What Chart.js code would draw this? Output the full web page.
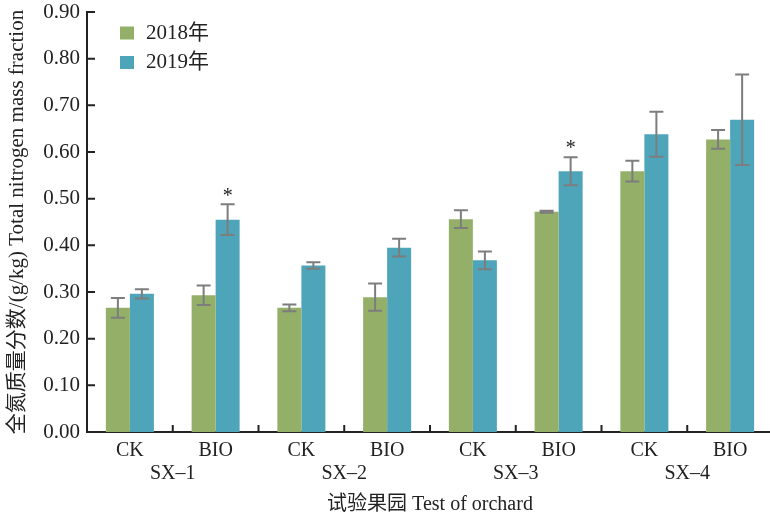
<!DOCTYPE html>
<html>
<head>
<meta charset="utf-8">
<script src="https://cdn.jsdelivr.net/npm/chart.js@4"></script>
<style>
  html, body { margin: 0; padding: 0; background: #fff; overflow: hidden; }
  #wrap { position: relative; width: 775px; height: 517px; }
</style>
</head>
<body>
<div id="wrap"><canvas id="c"></canvas></div>
<script>
// ---- data ----
const categories = ['CK', 'BIO', 'CK', 'BIO', 'CK', 'BIO', 'CK', 'BIO'];
const orchards = ['SX–1', 'SX–2', 'SX–3', 'SX–4'];
const seriesNames = ['2018年', '2019年'];
const values2018 = [0.266, 0.293, 0.266, 0.289, 0.456, 0.472, 0.559, 0.627];
const values2019 = [0.296, 0.455, 0.357, 0.395, 0.368, 0.559, 0.638, 0.669];
const err2018 = [0.021, 0.021, 0.007, 0.029, 0.019, 0.002, 0.022, 0.020];
const err2019 = [0.010, 0.033, 0.007, 0.019, 0.019, 0.030, 0.048, 0.097];
const sig2018 = [false, false, false, false, false, false, false, false];
const sig2019 = [false, true, false, false, false, true, false, false];
const yMin = 0, yMax = 0.9, yStep = 0.1;
const xTitle = '试验果园 Test of orchard';
const yTitle = '全氮质量分数/(g/kg) Total nitrogen mass fraction';

const errors = [err2018, err2019];
const sigs = [sig2018, sig2019];
const colors = ['#94af68', '#4ea5ba'];
const FONT = "'Liberation Serif', 'Noto Sans CJK SC', serif";
const INK = '#222';

const decor = {
  id: 'decor',
  afterDatasetsDraw(chart) {
    const ctx = chart.ctx;
    const x = chart.scales.x, y = chart.scales.y;
    ctx.save();
    // error bars + significance marks
    chart.data.datasets.forEach((ds, di) => {
      const meta = chart.getDatasetMeta(di);
      meta.data.forEach((bar, i) => {
        const v = ds.data[i], e = errors[di][i];
        const yt = y.getPixelForValue(v + e), yb = y.getPixelForValue(v - e);
        const cx = bar.x;
        ctx.strokeStyle = '#7d7d7d';
        ctx.lineWidth = 2;
        ctx.beginPath();
        ctx.moveTo(cx, yt); ctx.lineTo(cx, yb);
        ctx.moveTo(cx - 7, yt); ctx.lineTo(cx + 7, yt);
        ctx.moveTo(cx - 7, yb); ctx.lineTo(cx + 7, yb);
        ctx.stroke();
        if (sigs[di][i]) {
          ctx.fillStyle = INK;
          ctx.font = "20px " + FONT;
          ctx.textAlign = 'center';
          ctx.textBaseline = 'middle';
          ctx.fillText('*', cx, yt - 8);
        }
      });
    });
    // inward ticks
    ctx.strokeStyle = INK;
    ctx.lineWidth = 2;
    ctx.beginPath();
    y.ticks.forEach(t => {
      const py = y.getPixelForValue(t.value);
      ctx.moveTo(x.left, py); ctx.lineTo(x.left + 8, py);
    });
    for (let i = 1; i <= categories.length; i++) {
      const px = i < categories.length
        ? (x.getPixelForValue(i - 1) + x.getPixelForValue(i)) / 2
        : x.right;
      ctx.moveTo(px, y.bottom); ctx.lineTo(px, y.bottom - 7);
    }
    ctx.stroke();
    // legend
    ctx.font = "21px " + FONT;
    ctx.textAlign = 'left';
    ctx.textBaseline = 'middle';
    seriesNames.forEach((name, k) => {
      const ly = 33 + k * 29.5;
      ctx.fillStyle = colors[k];
      ctx.fillRect(120, ly - 6.5, 14, 13);
      ctx.fillStyle = INK;
      ctx.fillText(name, 146, ly);
    });
    ctx.restore();
  }
};

new Chart(document.getElementById('c'), {
  type: 'bar',
  data: {
    labels: categories,
    datasets: [
      { label: seriesNames[0], data: values2018, backgroundColor: colors[0],
        categoryPercentage: 0.56, barPercentage: 1.0 },
      { label: seriesNames[1], data: values2019, backgroundColor: colors[1],
        categoryPercentage: 0.56, barPercentage: 1.0 }
    ]
  },
  options: {
    responsive: true,
    maintainAspectRatio: false,
    animation: false,
    layout: { padding: { top: 12, right: 2, left: 0, bottom: 0 } },
    plugins: { legend: { display: false }, tooltip: { enabled: false } },
    scales: {
      x: {
        type: 'category',
        position: 'bottom',
        grid: { display: false, drawTicks: false },
        border: { display: true, color: INK, width: 2 },
        ticks: { color: INK, font: { family: FONT, size: 20 }, padding: 7, maxRotation: 0, autoSkip: false },
        afterFit(s) { s.height = 30; }
      },
      x2: {
        type: 'category',
        position: 'bottom',
        labels: orchards,
        grid: { display: false, drawTicks: false },
        border: { display: false },
        ticks: { color: INK, font: { family: FONT, size: 20 }, padding: 0, maxRotation: 0, autoSkip: false },
        title: { display: true, text: xTitle, color: INK, font: { family: FONT, size: 20 }, padding: { top: 0, bottom: 0 } },
        afterFit(s) { s.height = 55; }
      },
      y: {
        min: yMin, max: yMax,
        grid: { display: false, drawTicks: false },
        border: { display: true, color: INK, width: 2 },
        ticks: { stepSize: yStep, color: INK, font: { family: FONT, size: 21 }, padding: 7,
          callback: v => Number(v).toFixed(2) },
        title: { display: true, text: yTitle, color: INK, font: { family: FONT, size: 21 }, padding: { top: 5, bottom: 0 } },
        afterFit(s) { s.width = 87; s.paddingTop = 0; s.paddingBottom = 0; }
      }
    }
  },
  plugins: [decor]
});
</script>
</body>
</html>
